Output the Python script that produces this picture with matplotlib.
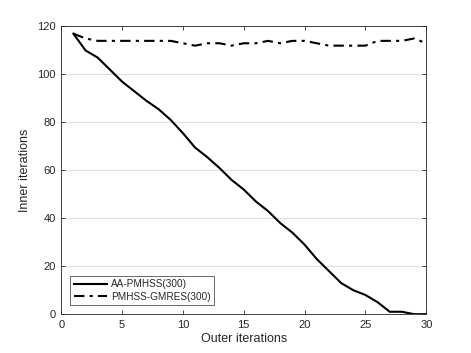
import matplotlib
matplotlib.use("Agg")
import matplotlib.pyplot as plt

outer_iter = list(range(1, 31))
aa_pmhss = [117, 110, 107, 102, 97, 93, 89, 85.5, 81, 75.5, 69.5, 65.5, 61, 56, 52,
            47, 43, 38, 34, 29, 23, 18, 13, 10, 8, 5, 1, 1, 0, 0]
pmhss_gmres = [117, 115, 114, 114, 114, 114, 114, 114, 114, 113, 112, 113, 113, 112, 113,
               113, 114, 113, 114, 114, 113, 112, 112, 112, 112, 114, 114, 114, 115, 113]
labels = ["AA-PMHSS(300)", "PMHSS-GMRES(300)"]
xticks = [0, 5, 10, 15, 20, 25, 30]
yticks = [0, 20, 40, 60, 80, 100, 120]

plt.rcParams['font.family'] = ['Liberation Sans', 'DejaVu Sans']

fig = plt.figure(figsize=(4.71, 3.53), dpi=100)
ax = fig.add_axes([0.13, 0.11, 0.775, 0.815])

ax.plot(outer_iter, aa_pmhss, color='black', lw=1.5, label=labels[0])
ax.plot(outer_iter, pmhss_gmres, color='black', lw=1.5, dashes=(5, 2.5, 1.5, 2.5), label=labels[1])

ax.set_xlim(0, 30)
ax.set_ylim(0, 120)
ax.set_xticks(xticks)
ax.set_yticks(yticks)
ax.yaxis.grid(True, color='#dfdfdf', lw=0.8)
ax.set_axisbelow(True)

spine_c = '#262626'
for s in ax.spines.values():
    s.set_color(spine_c)
    s.set_linewidth(0.6)
ax.tick_params(direction='in', top=True, right=True, length=3, width=0.6,
               colors=spine_c, labelsize=8, labelcolor='#262626', pad=4)
ax.set_xlabel('Outer iterations', fontsize=9, color='#262626', labelpad=2)
ax.set_ylabel('Inner iterations', fontsize=9, color='#262626', labelpad=4)

leg = ax.legend(loc='lower left', fontsize=7.2, frameon=True, fancybox=False,
                handlelength=3.3, handletextpad=0.4, borderpad=0.35, labelspacing=0.25,
                borderaxespad=0.9, edgecolor='#262626')
leg.get_frame().set_linewidth(0.6)
for t in leg.get_texts():
    t.set_color('#262626')

fig.savefig('out.png', dpi=100)
